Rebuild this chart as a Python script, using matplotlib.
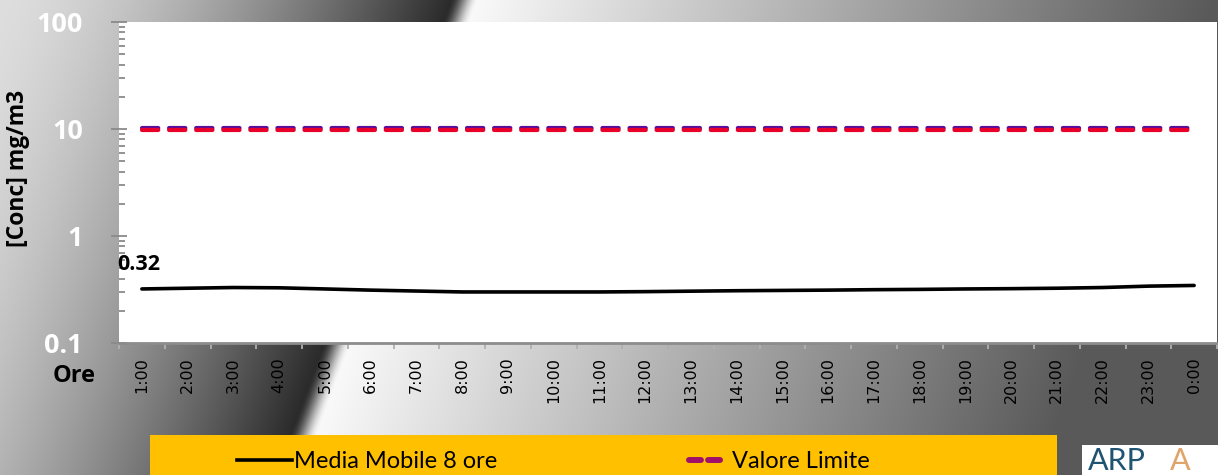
import numpy as np
import matplotlib
matplotlib.use("Agg")
import matplotlib.pyplot as plt
from matplotlib import transforms
from matplotlib.lines import Line2D
from matplotlib.patches import Rectangle

# ---- data ----
HOURS = ["1:00", "2:00", "3:00", "4:00", "5:00", "6:00", "7:00", "8:00", "9:00",
         "10:00", "11:00", "12:00", "13:00", "14:00", "15:00", "16:00", "17:00",
         "18:00", "19:00", "20:00", "21:00", "22:00", "23:00", "0:00"]
MEDIA_MOBILE = [0.32, 0.325, 0.33, 0.328, 0.32, 0.312, 0.306, 0.30, 0.30, 0.30,
                0.30, 0.302, 0.305, 0.308, 0.31, 0.312, 0.315, 0.317, 0.32,
                0.322, 0.325, 0.33, 0.34, 0.345]
VALORE_LIMITE = [10, 10, 10, 10, 10, 10, 10, 10, 10, 10, 10, 10, 10, 10, 10, 10,
                 10, 10, 10, 10, 10, 10, 10, 10]
Y_TICKS = [0.1, 1, 10, 100]
Y_TICK_LABELS = ["0.1", "1", "10", "100"]
FIRST_LABEL = "0.32"

W, H = 1218, 475
fig = plt.figure(figsize=(W / 100, H / 100), dpi=100)
FONT_B = ["Open Sans", "DejaVu Sans"]

# ---- background gradient ----
bg_ax = fig.add_axes([0, 0, 1, 1], zorder=-10)
xx, yy = np.meshgrid(np.arange(W), np.arange(H))
u = xx + 0.37 * yy
u0 = 450.0
left = 0.87 - 0.7 * np.clip(u / u0, 0, 1) ** 1.5
d = u - u0
vr = np.clip(1 - 0.00085 * np.clip(d, 0, None), 0.35, 1)
s = np.clip(d / 28.0, 0, 1)
s = s * s * (3 - 2 * s)
right = (1 - s) * 0.17 + s * vr
v = np.where(d < 0, left, right)
bg_ax.imshow(np.dstack([v, v, v]), extent=[0, W, H, 0], aspect="auto",
             interpolation="bilinear")
bg_ax.set_xlim(0, W)
bg_ax.set_ylim(H, 0)
bg_ax.axis("off")

# ---- main axes ----
L, R, T, B = 119, 1217, 22, 343
ax = fig.add_axes([L / W, 1 - B / H, (R - L) / W, (B - T) / H])
ax.set_facecolor("white")
x = np.arange(len(HOURS))

ax.plot(x, MEDIA_MOBILE, color="black", lw=2.6, solid_capstyle="round", zorder=3)

off_up = transforms.offset_copy(ax.transData, fig=fig, x=0, y=1.4, units="dots")
off_dn = transforms.offset_copy(ax.transData, fig=fig, x=0, y=-1.4, units="dots")
dash = (3.9, 2.6)
ax.plot(x, VALORE_LIMITE, color="#5a0f9a", lw=3.0, dashes=dash,
        dash_capstyle="round", transform=off_up, zorder=3)
ax.plot(x, VALORE_LIMITE, color="#e8002a", lw=3.0, dashes=dash,
        dash_capstyle="round", transform=off_dn, zorder=3)

ax.set_yscale("log")
ax.set_ylim(0.1, 100)
ax.set_xlim(-0.5, len(HOURS) - 0.5)

ax.set_yticks(Y_TICKS)
ax.set_yticklabels(Y_TICK_LABELS)
ax.tick_params(axis="y", which="major", direction="inout", length=12, width=1.3,
               color="#8a8a8a", pad=20, labelsize=19.5, labelcolor="white")
ax.tick_params(axis="y", which="minor", direction="in", length=4.5, width=1.3,
               color="#8a8a8a")
for lab in ax.get_yticklabels():
    lab.set_fontweight("bold")
    lab.set_family(FONT_B)

ax.set_xticks(x)
ax.set_xticklabels(HOURS, rotation=90, fontsize=11.5, color="black",
                   family="DejaVu Sans")
ax.set_xticks(np.arange(len(HOURS) + 1) - 0.5, minor=True)
ax.tick_params(axis="x", which="major", length=0, pad=10)
ax.tick_params(axis="x", which="minor", length=4, width=1.3, color="#b0b0b0",
               direction="out")

for sp in ["left", "top", "right"]:
    ax.spines[sp].set_visible(False)
ax.spines["bottom"].set_color("#8c8c8c")
ax.spines["bottom"].set_linewidth(2)

ax.annotate(FIRST_LABEL, xy=(x[0], MEDIA_MOBILE[0]), xytext=(-25, 24),
            textcoords="offset pixels", ha="left", va="center",
            fontsize=15.5, fontweight="bold", family=FONT_B)

# axis titles
fig.text(18 / W, 1 - 168 / H, "[Conc] mg/m3", rotation=90, ha="center",
         va="center", fontsize=16.5, fontweight="bold", family=FONT_B)
fig.text(74 / W, 1 - 376 / H, "Ore", ha="center", va="center", fontsize=17,
         fontweight="bold", family=FONT_B)

# ---- legend ----
fig.patches.append(Rectangle((150 / W, 0), (1057 - 150) / W, 40 / H,
                             transform=fig.transFigure, facecolor="#FFC000",
                             edgecolor="none", zorder=0))
h1 = Line2D([], [], color="black", lw=2.6)
h2 = Line2D([], [], color="#a0106a", lw=4.3, dashes=(2.0, 1.2),
            dash_capstyle="round")
leg_font = {"family": ["Liberation Sans Narrow", "Lato", "DejaVu Sans"],
            "size": 17}
lg1 = fig.legend(handles=[h1], labels=["Media Mobile 8 ore"], loc="center left",
                 bbox_to_anchor=(216 / W, 13 / H), frameon=False, prop=leg_font,
                 handlelength=2.3, handletextpad=0.1)
lg2 = fig.legend(handles=[h2], labels=["Valore Limite"], loc="center left",
                 bbox_to_anchor=(668 / W, 13 / H), frameon=False, prop=leg_font,
                 handlelength=1.3, handletextpad=0.5)

# ---- logo ----
fig.patches.append(Rectangle((1082 / W, 0), (W - 1082) / W, 30 / H,
                             transform=fig.transFigure, facecolor="white",
                             edgecolor="none", zorder=0))
fig.text(1088 / W, 0.5 / H, "ARP", ha="left", va="bottom", fontsize=22,
         color="#1f5472", family=["Lato", "DejaVu Sans"])
fig.text(1170 / W, 0.5 / H, "A", ha="left", va="bottom", fontsize=22,
         color="#e0a36a", family=["Lato", "DejaVu Sans"])

fig.savefig("out.png", dpi=100)
